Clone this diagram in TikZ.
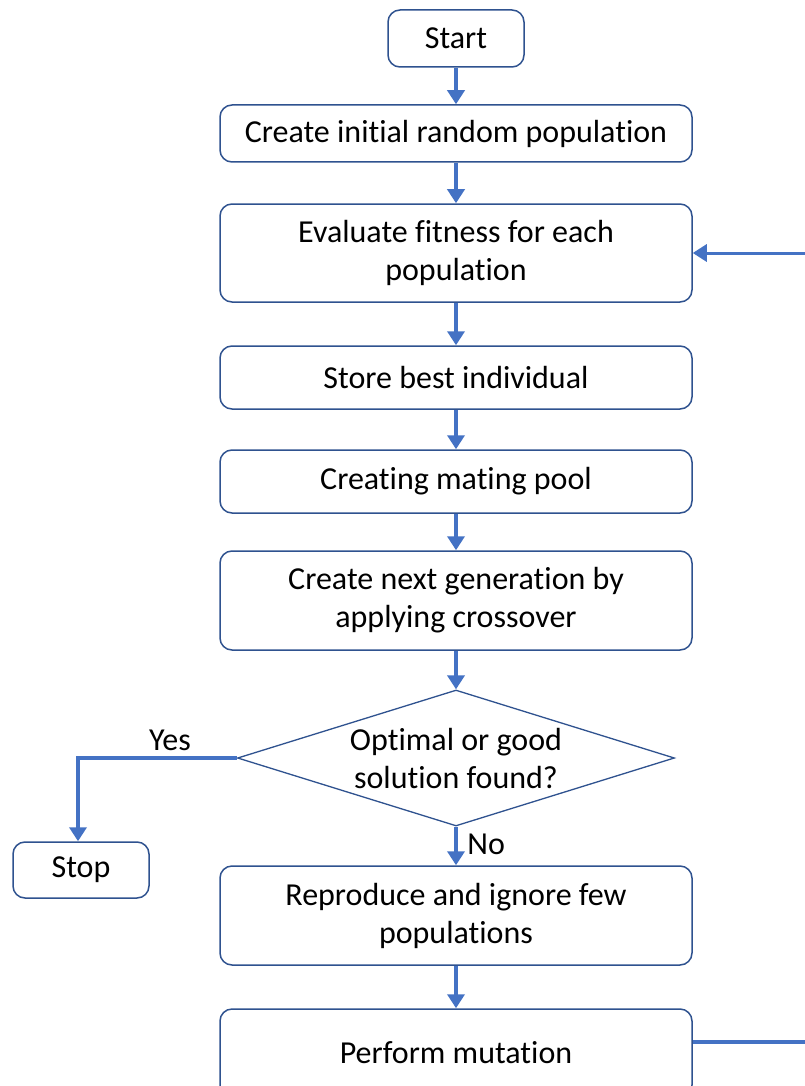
\documentclass[tikz,border=0pt]{standalone}
\usepackage{fontspec}
\setmainfont[Ligatures=NoCommon]{Carlito}
\usetikzlibrary{arrows.meta,shapes.geometric}
\definecolor{edgeblue}{HTML}{2F528F}
\definecolor{flowblue}{HTML}{4472C4}
\tikzset{
  procbox/.style={draw=edgeblue, line width=1.5pt, rounded corners=12pt, fill=white,
    minimum width=472pt, inner sep=0pt, align=center},
  decbox/.style={draw=edgeblue, line width=1.3pt, diamond, aspect=3.2, fill=white,
    minimum width=437pt, minimum height=136pt, inner sep=0pt, align=center},
  flow/.style={draw=flowblue, line width=4pt, -{Triangle[width=17pt,length=14pt]}},
}
\begin{document}
\begin{tikzpicture}[x=1pt,y=-1pt,font=\fontsize{32}{38}\selectfont]
\useasboundingbox (0,0) rectangle (805,1086);
\clip (0,0) rectangle (805,1086);
\fill[white] (0,0) rectangle (805,1086);

\node[procbox, minimum width=136pt, minimum height=57pt] (start) at (456,38.5) {Start};
\node[procbox, minimum height=57pt] (init) at (456,133.5) {Create initial random population};
\node[procbox, minimum height=98pt] (eval) at (456,253) {Evaluate fitness for each\\population};
\node[procbox, minimum height=63pt] (best) at (456,377.5) {Store best individual};
\node[procbox, minimum height=63pt] (pool) at (456,481.5) {Creating mating pool};
\node[procbox, minimum height=99pt] (cross) at (456,600.5) {Create next generation by\\applying crossover};
\node[decbox] (found) at (456,758) {Optimal or good\\solution found?};
\node[procbox, minimum width=136pt, minimum height=56pt] (stop) at (81,870) {Stop};
\node[procbox, minimum height=99pt] (repro) at (456,915.5) {Reproduce and ignore few\\populations};
\node[procbox, minimum height=88pt] (mut) at (456,1053) {Perform mutation};

% main chain
\draw[flow] (start) -- (init);
\draw[flow] (init) -- (eval);
\draw[flow] (eval) -- (best);
\draw[flow] (best) -- (pool);
\draw[flow] (pool) -- (cross);
\draw[flow] (cross) -- (found);
\draw[flow] (found) -- (repro) node[pos=0.45, right=6pt] {No};
\draw[flow] (repro) -- (mut);

% yes branch
\coordinate (yescorner) at (78,758);
\draw[flow] (found.west) -- (yescorner) -- (stop.north -| yescorner);
\node (yes) at (170,740) {Yes};

% loop back
\coordinate (loopout) at (805,1042);
\coordinate (loopin) at (805,253);
\draw[draw=flowblue, line width=4pt] (mut.east |- loopout) -- (loopout);
\draw[flow, line width=3pt] (loopin) -- (eval.east |- loopin);
\end{tikzpicture}
\end{document}
